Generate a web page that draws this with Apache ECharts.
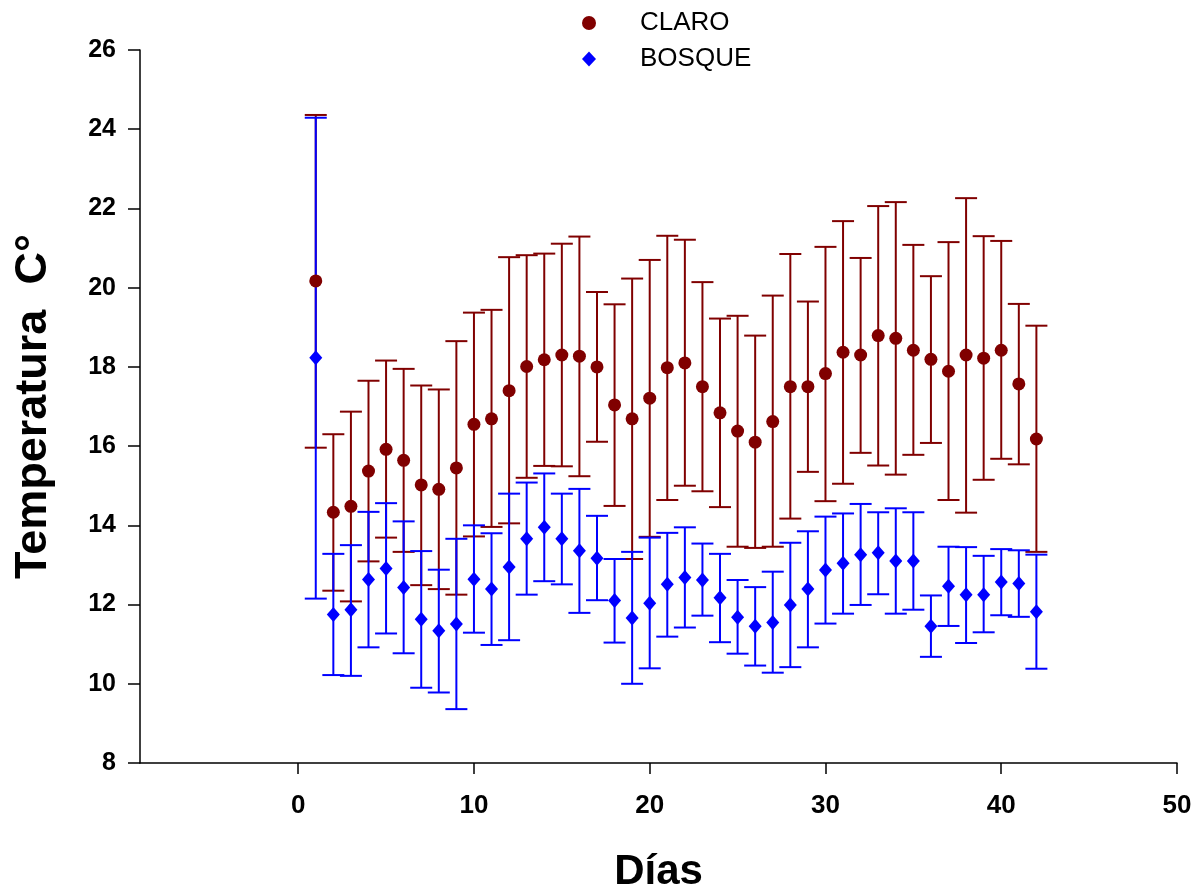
<!DOCTYPE html>
<html>
<head>
<meta charset="utf-8">
<title>Temperatura diaria: claro y bosque</title>
<script src="https://cdn.jsdelivr.net/npm/echarts@6/dist/echarts.min.js"></script>
<style>
  html, body { margin: 0; padding: 0; background: #ffffff; }
  #chart { width: 1199px; height: 892px; }
</style>
</head>
<body>
<div id="chart"></div>
<script>
// Días de muestreo
const days = [1,2,3,4,5,6,7,8,9,10,11,12,13,14,15,16,17,18,19,20,21,
              22,23,24,25,26,27,28,29,30,31,32,33,34,35,36,37,38,39,40,41,42];

// CLARO: media y límites superior / inferior (°C)
const claroMean = [20.17,14.33,14.48,15.37,15.92,15.64,15.02,14.91,15.45,16.55,16.69,
                   17.40,18.01,18.18,18.30,18.27,18.00,17.04,16.69,17.21,17.98,18.10,
                   17.50,16.84,16.38,16.10,16.62,17.50,17.50,17.83,18.37,18.30,18.79,
                   18.72,18.42,18.19,17.89,18.30,18.22,18.42,17.57,16.18];
const claroUpper = [24.36,16.30,16.87,17.65,18.16,17.95,17.53,17.43,18.65,19.37,19.44,
                    20.77,20.82,20.86,21.11,21.29,19.89,19.58,20.23,20.70,21.31,21.21,
                    20.14,19.22,19.29,18.79,19.80,20.85,19.65,21.03,21.68,20.75,22.06,
                    22.16,21.08,20.29,21.15,22.26,21.30,21.18,19.59,19.04];
const claroLower = [15.96,12.35,12.08,13.09,13.69,13.33,12.49,12.39,12.25,13.72,13.96,
                    14.05,15.20,15.50,15.49,15.24,16.11,14.49,13.15,13.71,14.64,15.00,
                    14.86,14.46,13.46,13.43,13.46,14.17,15.35,14.61,15.05,15.83,15.51,
                    15.28,15.78,16.08,14.64,14.32,15.15,15.68,15.54,13.33];

// BOSQUE: media y límites superior / inferior (°C)
const bosqueMean = [18.23,11.75,11.87,12.63,12.91,12.43,11.63,11.34,11.51,12.64,12.39,
                    12.95,13.66,13.95,13.66,13.36,13.17,12.10,11.66,12.03,12.51,12.68,
                    12.62,12.17,11.68,11.45,11.55,11.99,12.39,12.87,13.04,13.26,13.31,
                    13.10,13.10,11.45,12.46,12.25,12.25,12.57,12.53,11.82];
const bosqueUpper = [24.29,13.28,13.50,14.34,14.56,14.10,13.35,12.88,13.66,14.00,13.80,
                     14.80,15.08,15.31,14.80,14.92,14.24,13.15,13.33,13.69,13.81,13.95,
                     13.54,13.28,12.62,12.44,12.83,13.56,13.85,14.22,14.30,14.54,14.33,
                     14.43,14.33,12.23,13.46,13.45,13.23,13.40,13.37,13.26];
const bosqueLower = [12.15,10.22,10.20,10.92,11.27,10.77,9.90,9.78,9.36,11.29,10.98,
                     11.10,12.25,12.59,12.51,11.79,12.11,11.04,10.00,10.39,11.19,11.42,
                     11.72,11.05,10.76,10.46,10.28,10.42,10.92,11.52,11.77,11.99,12.26,
                     11.77,11.87,10.68,11.46,11.03,11.30,11.73,11.69,10.38];

// Marcas de los ejes
const xTicks = [0, 10, 20, 30, 40, 50];
const yTicks = [8, 10, 12, 14, 16, 18, 20, 22, 24, 26];

const RED = '#800000';
const BLUE = '#0000ff';
const FONT = "'Liberation Sans', Arial, sans-serif";

// Barra de error vertical con remates horizontales
function errorBar(color) {
  return function (params, api) {
    const x = api.value(0);
    const top = api.coord([x, api.value(1)]);
    const bot = api.coord([x, api.value(2)]);
    const half = 11;
    const style = { stroke: color, lineWidth: 2 };
    return {
      type: 'group',
      children: [
        { type: 'line', shape: { x1: top[0], y1: top[1], x2: bot[0], y2: bot[1] }, style: style },
        { type: 'line', shape: { x1: top[0] - half, y1: top[1], x2: top[0] + half, y2: top[1] }, style: style },
        { type: 'line', shape: { x1: bot[0] - half, y1: bot[1], x2: bot[0] + half, y2: bot[1] }, style: style }
      ]
    };
  };
}

const rows = (...cols) => days.map((d, i) => [d, ...cols.map(c => c[i])]);

const chart = echarts.init(document.getElementById('chart'), null, { renderer: 'canvas' });

chart.setOption({
  animation: false,
  backgroundColor: '#ffffff',
  grid: { left: 140, right: 22, top: 50, bottom: 129, outerBoundsMode: 'none', containLabel: false },
  legend: {
    orient: 'vertical',
    left: 577,
    top: 3,
    itemWidth: 14,
    itemHeight: 15,
    itemGap: 6,
    data: ['CLARO', 'BOSQUE'],
    textStyle: { fontFamily: FONT, fontSize: 26, color: '#000', lineHeight: 30, padding: [0, 0, 0, 39] }
  },
  xAxis: {
    type: 'value',
    min: -9,
    max: 50,
    name: 'Días',
    nameLocation: 'middle',
    nameGap: 88,
    nameTextStyle: { fontFamily: FONT, fontWeight: 'bold', fontSize: 42, color: '#000' },
    splitLine: { show: false },
    axisLine: { show: true, onZero: false, lineStyle: { color: '#000', width: 1.5 } },
    axisTick: { show: true, inside: false, length: 11, customValues: xTicks, lineStyle: { color: '#000', width: 1.5 } },
    axisLabel: { customValues: xTicks, margin: 30, fontFamily: FONT, fontWeight: 'bold', fontSize: 26, color: '#000' }
  },
  yAxis: {
    type: 'value',
    min: 8,
    max: 26,
    interval: 2,
    name: 'Temperatura  C°',
    nameLocation: 'middle',
    nameGap: 84,
    nameTextStyle: { fontFamily: FONT, fontWeight: 'bold', fontSize: 45, color: '#000' },
    splitLine: { show: false },
    axisLine: { show: true, onZero: false, lineStyle: { color: '#000', width: 1.5 } },
    axisTick: { show: true, inside: false, length: 12, customValues: yTicks, lineStyle: { color: '#000', width: 1.5 } },
    axisLabel: { customValues: yTicks, margin: 24, fontFamily: FONT, fontWeight: 'bold', fontSize: 25, color: '#000' }
  },
  series: [
    {
      name: 'CLARO rango',
      type: 'custom',
      z: 1,
      renderItem: errorBar(RED),
      encode: { x: 0, y: [1, 2] },
      data: rows(claroUpper, claroLower)
    },
    {
      name: 'BOSQUE rango',
      type: 'custom',
      z: 2,
      renderItem: errorBar(BLUE),
      encode: { x: 0, y: [1, 2] },
      data: rows(bosqueUpper, bosqueLower)
    },
    {
      name: 'CLARO',
      type: 'scatter',
      z: 3,
      symbol: 'circle',
      symbolSize: 13,
      itemStyle: { color: RED, opacity: 1 },
      data: rows(claroMean)
    },
    {
      name: 'BOSQUE',
      type: 'scatter',
      z: 4,
      symbol: 'diamond',
      symbolSize: [13, 15],
      itemStyle: { color: BLUE, opacity: 1 },
      data: rows(bosqueMean)
    }
  ]
});
</script>
</body>
</html>
